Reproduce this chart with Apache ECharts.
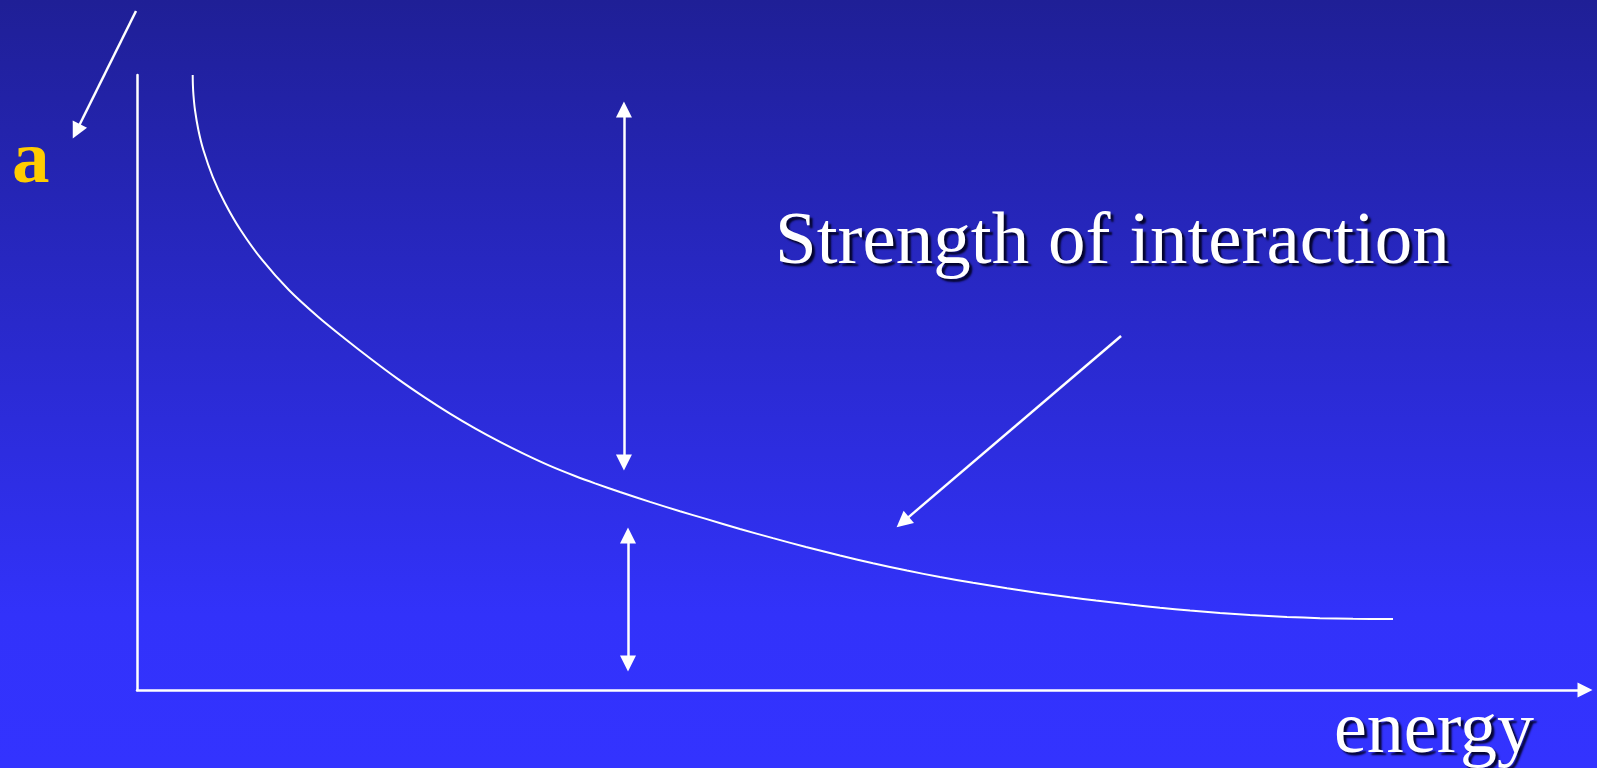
<!DOCTYPE html>
<html>
<head>
<meta charset="utf-8">
<script src="https://cdn.jsdelivr.net/npm/echarts@6/dist/echarts.min.js"></script>
<style>
html,body{margin:0;padding:0;}
#main{width:1597px;height:768px;background:linear-gradient(#1f1f96,#3232fa 80%,#3333ff);}
</style>
</head>
<body>
<div id="main"></div>
<script>
// curve, x = energy, y = a (0..100 both)
var curveX = [3.847,3.86,3.898,4.004,4.239,4.584,5.237,6.072,7.153,8.645,10.489,12.521,14.296,16.091,17.956,19.89,21.616,23.343,25.069,26.796,28.522,30.249,31.63,33.356,35.428,37.5,39.296,41.644,43.923,46.202,48.55,50.829,53.177,55.456,57.735,60.083,62.362,64.434,66.229,68.577,70.649,72.721,74.793,76.865,79.42,81.699,83.978,86.74];
var curveY = [100,98.37,96.75,94.31,91.06,87.8,83.41,79.19,74.8,69.92,65.04,60.65,57.24,53.94,50.67,47.54,44.94,42.54,40.34,38.3,36.43,34.79,33.59,32.19,30.59,29.07,27.82,26.19,24.69,23.26,21.87,20.61,19.42,18.37,17.43,16.55,15.75,15.08,14.54,13.89,13.37,12.92,12.53,12.19,11.88,11.68,11.57,11.53];

// arrows: [x1,y1,x2,y2]
var arrowA = [-0.07,110.41,-4.19,90.85];
var arrowUp = [33.63,94.39,33.63,36.99];
var arrowDown = [33.91,25.12,33.91,4.31];
var arrowLabel = [67.96,57.56,52.88,27.3];

var curveData = [];
for(var i=0;i<curveX.length;i++){
    curveData.push([curveX[i],curveY[i]]);
}
function seg(a){
    return {coords:[[a[0],a[1]],[a[2],a[3]]]};
}

var chart = echarts.init(document.getElementById('main'));
var txtShadow = {textShadowColor:'rgba(0,0,30,0.9)',textShadowBlur:2,textShadowOffsetX:3,textShadowOffsetY:3};
var option = {
    backgroundColor: {
        type:'linear',x:0,y:0,x2:0,y2:1,
        colorStops:[{offset:0,color:'#1f1f96'},{offset:0.8,color:'#3232fa'},{offset:1,color:'#3333ff'}]
    },
    animation:false,
    grid:{left:137,right:12,top:75,bottom:78,containLabel:false},
    xAxis:{
        type:'value',min:0,max:100,
        axisLine:{show:true,symbol:['none','triangle'],symbolSize:[15,15],lineStyle:{color:'#fff',width:2.5}},
        axisTick:{show:false},axisLabel:{show:false},splitLine:{show:false}
    },
    yAxis:{
        type:'value',min:0,max:100,
        axisLine:{show:true,lineStyle:{color:'#fff',width:2.5}},
        axisTick:{show:false},axisLabel:{show:false},splitLine:{show:false}
    },
    graphic:[
        {type:'text',style:Object.assign({text:'Strength of interaction',x:775,y:243,font:'75px "Liberation Serif", "Times New Roman", serif',fill:'#fff',align:'left',verticalAlign:'middle'},txtShadow)},
        {type:'text',style:Object.assign({text:'energy',x:1334,y:733,font:'74px "Liberation Serif", "Times New Roman", serif',fill:'#fff',align:'left',verticalAlign:'middle'},txtShadow)},
        {type:'text',style:{text:'a',x:12,y:163,font:'bold 75px "Liberation Serif", "Times New Roman", serif',fill:'#ffcc00',align:'left',verticalAlign:'middle'}}
    ],
    series:[
        {
            type:'line',
            data:curveData,
            showSymbol:false,
            smooth:0.3,
            lineStyle:{color:'#fff',width:2},
            clip:false
        },
        {
            type:'lines',
            coordinateSystem:'cartesian2d',
            clip:false,
            symbol:['none','triangle'],
            symbolSize:16,
            lineStyle:{color:'#fff',width:2.5,opacity:1},
            data:[seg(arrowA),seg(arrowLabel)]
        },
        {
            type:'lines',
            coordinateSystem:'cartesian2d',
            clip:false,
            symbol:['triangle','triangle'],
            symbolSize:16,
            lineStyle:{color:'#fff',width:2.5,opacity:1},
            data:[seg(arrowUp),seg(arrowDown)]
        }
    ]
};
chart.setOption(option);
</script>
</body>
</html>
